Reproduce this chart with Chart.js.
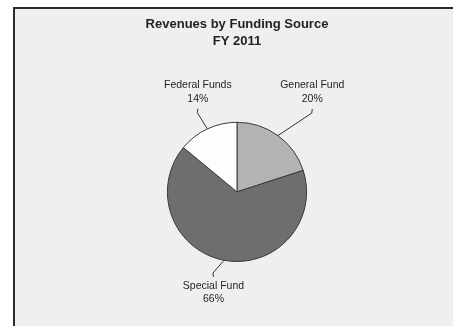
<!DOCTYPE html>
<html>
<head>
<meta charset="utf-8">
<script src="https://cdn.jsdelivr.net/npm/chart.js@4"></script>
<style>
  html, body { margin: 0; padding: 0; background: #fff; }
  body { width: 453px; height: 326px; position: relative; overflow: hidden; }
  .frame {
    position: absolute; left: 13px; top: 7px; width: 460px; height: 340px;
    background: #efefef; border-left: 2px solid #2b2b2b; border-top: 2px solid #2b2b2b;
  }
  .canvas { position: absolute; left: 0; top: 0; width: 453px; height: 326px; }
</style>
</head>
<body>
<div class="frame"></div>
<div class="canvas"><canvas id="revenueChart" width="453" height="326"></canvas></div>
<script>
const categories = ['General Fund', 'Special Fund', 'Federal Funds'];
const shares = [20, 66, 14];
const sliceColors = ['#b3b3b3', '#6e6e70', '#fdfdfd'];
const titleLines = ['Revenues by Funding Source', 'FY 2011'];

// leader line tweaks (extra length in px, turn in degrees) per slice
const leaderExtend = [39, 15, 19];
const leaderTurn = [7.5, 5.7, -1.4];

const total = shares.reduce((a, b) => a + b, 0);

const sliceLabels = {
  id: 'sliceLabels',
  afterDatasetsDraw(chart) {
    const ctx = chart.ctx;
    const meta = chart.getDatasetMeta(0);
    ctx.save();
    ctx.strokeStyle = '#333';
    ctx.lineWidth = 1;
    ctx.fillStyle = '#1f1f1f';
    ctx.font = '10.5px "Liberation Sans", Arial, sans-serif';
    ctx.textAlign = 'center';
    ctx.textBaseline = 'middle';
    meta.data.forEach((arc, i) => {
      const { x, y, startAngle, endAngle, outerRadius } = arc.getProps(['x', 'y', 'startAngle', 'endAngle', 'outerRadius'], true);
      const mid = (startAngle + endAngle) / 2;
      const bent = mid + leaderTurn[i] * Math.PI / 180;
      const sx = x + Math.cos(mid) * outerRadius;
      const sy = y + Math.sin(mid) * outerRadius;
      const ex = x + Math.cos(bent) * (outerRadius + leaderExtend[i]);
      const ey = y + Math.sin(bent) * (outerRadius + leaderExtend[i]);
      const dir = Math.sin(mid) < 0 ? -1 : 1;
      const hx = ex + 0.5;
      const hy = ey + dir * 4;
      ctx.beginPath();
      ctx.moveTo(sx, sy);
      ctx.lineTo(ex, ey);
      ctx.lineTo(hx, hy);
      ctx.stroke();
      const pct = Math.round(shares[i] / total * 100) + '%';
      if (dir < 0) {
        ctx.fillText(categories[i], hx, hy - 24);
        ctx.fillText(pct, hx, hy - 10);
      } else {
        ctx.fillText(categories[i], hx, hy + 9);
        ctx.fillText(pct, hx, hy + 22);
      }
    });
    ctx.restore();
  }
};

new Chart(document.getElementById('revenueChart').getContext('2d'), {
  type: 'pie',
  data: {
    labels: categories,
    datasets: [{
      data: shares,
      backgroundColor: sliceColors,
      borderColor: '#3a3a3a',
      borderWidth: 1
    }]
  },
  options: {
    responsive: false,
    animation: false,
    events: [],
    layout: { padding: { top: 0, bottom: 64, left: 21, right: 0 } },
    plugins: {
      legend: { display: false },
      tooltip: { enabled: false },
      title: {
        display: true,
        text: titleLines,
        color: '#222',
        font: { family: '"Liberation Sans", Arial, sans-serif', size: 13, weight: 'bold', lineHeight: 1.3 },
        padding: { top: 16, bottom: 72 }
      }
    }
  },
  plugins: [sliceLabels]
});
</script>
</body>
</html>
